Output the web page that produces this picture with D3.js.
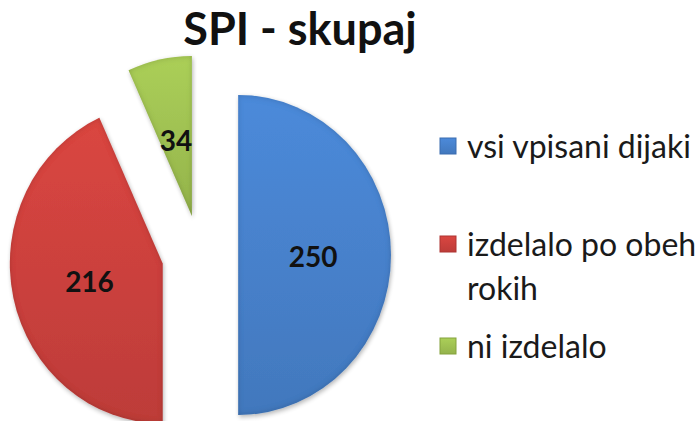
<!DOCTYPE html>
<html><head><meta charset="utf-8">
<script src="https://cdn.jsdelivr.net/npm/d3@7"></script>
<style>html,body{margin:0;padding:0;background:#fff;}svg{display:block;}</style>
</head><body>
<svg id="chart" width="696" height="421"></svg>
<script>
const title = "SPI - skupaj";
const categories = ["vsi vpisani dijaki", "izdelalo po obeh rokih", "ni izdelalo"];
const legendLines = [["vsi vpisani dijaki"], ["izdelalo po obeh", "rokih"], ["ni izdelalo"]];
const values = [250, 216, 34];
const colors = ["#4883cf", "#cf423e", "#a2c453"];
const darkColors = ["#3a6db0", "#ae3532", "#84a23c"];

const W = 696, H = 421;
const svg = d3.select("#chart");
const defs = svg.append("defs");

// inner bevel-like shadow plus soft outer shadow
const f = defs.append("filter").attr("id", "bevel").attr("x", "-15%").attr("y", "-15%").attr("width", "130%").attr("height", "130%");
f.append("feGaussianBlur").attr("in", "SourceAlpha").attr("stdDeviation", 2.5).attr("result", "sblur");
f.append("feOffset").attr("in", "sblur").attr("dx", 1.5).attr("dy", 2).attr("result", "soff");
f.append("feComponentTransfer").attr("in", "soff").attr("result", "shadow")
  .append("feFuncA").attr("type", "linear").attr("slope", 0.3);
f.append("feFlood").attr("flood-color", "#000").attr("flood-opacity", 0.35).attr("result", "flood");
f.append("feComposite").attr("in", "flood").attr("in2", "SourceAlpha").attr("operator", "out").attr("result", "inv");
f.append("feGaussianBlur").attr("in", "inv").attr("stdDeviation", 3).attr("result", "blur");
f.append("feComposite").attr("in", "blur").attr("in2", "SourceAlpha").attr("operator", "in").attr("result", "inner");
const fm = f.append("feMerge");
fm.append("feMergeNode").attr("in", "shadow");
fm.append("feMergeNode").attr("in", "SourceGraphic");
fm.append("feMergeNode").attr("in", "inner");

colors.forEach((c, i) => {
  const g = defs.append("linearGradient").attr("id", "lg" + i).attr("x1", 0).attr("y1", 0).attr("x2", 0).attr("y2", 1);
  g.append("stop").attr("offset", "0%").attr("stop-color", d3.color(c).brighter(0.15));
  g.append("stop").attr("offset", "100%").attr("stop-color", d3.color(c).darker(0.25));
});

const cx = 200, cy = 255, R = 160, sx = 0.955, explode = 40;
const pie = d3.pie().sort(null).value(d => d)(values);
const arc = d3.arc().innerRadius(0).outerRadius(R);

const pieG = svg.append("g").attr("transform", `translate(${cx},${cy}) scale(${sx},1)`);
pieG.selectAll("path").data(pie).join("path")
  .attr("transform", d => {
    const a = (d.startAngle + d.endAngle) / 2;
    return `translate(${explode * Math.sin(a)},${-explode * Math.cos(a)})`;
  })
  .attr("d", arc)
  .attr("fill", (d, i) => `url(#lg${i})`)
  .attr("filter", "url(#bevel)");

// labels
const labR = 0.49 * R;
svg.selectAll("text.val").data(pie).join("text").attr("class", "val")
  .attr("x", d => { const a = (d.startAngle + d.endAngle) / 2; return cx + sx * (explode + labR) * Math.sin(a); })
  .attr("y", d => { const a = (d.startAngle + d.endAngle) / 2; return cy - (explode + labR) * Math.cos(a); })
  .attr("dy", "0.42em")
  .attr("text-anchor", "middle")
  .attr("font-family", "Lato, sans-serif").attr("font-weight", "bold").attr("font-size", 28)
  .attr("fill", "#111")
  .text(d => d.data);

// title
svg.append("text").attr("x", 300).attr("y", 45).attr("text-anchor", "middle")
  .attr("font-family", "Lato, sans-serif").attr("font-weight", "bold").attr("font-size", 45)
  .attr("fill", "#111").text(title);

// legend
const baselines = [158, 256, 358];
const lg = svg.append("g");
legendLines.forEach((lines, i) => {
  lg.append("rect").attr("x", 440).attr("y", baselines[i] - 20).attr("width", 16).attr("height", 16)
    .attr("fill", `url(#lg${i})`).attr("stroke", darkColors[i]).attr("stroke-width", 1);
  const t = lg.append("text").attr("x", 467).attr("y", baselines[i])
    .attr("font-family", "Lato, sans-serif").attr("font-size", 32).attr("fill", "#1a1a1a");
  lines.forEach((ln, j) => t.append("tspan").attr("x", 467).attr("dy", j === 0 ? 0 : 44).text(ln));
});
</script>
</body></html>
